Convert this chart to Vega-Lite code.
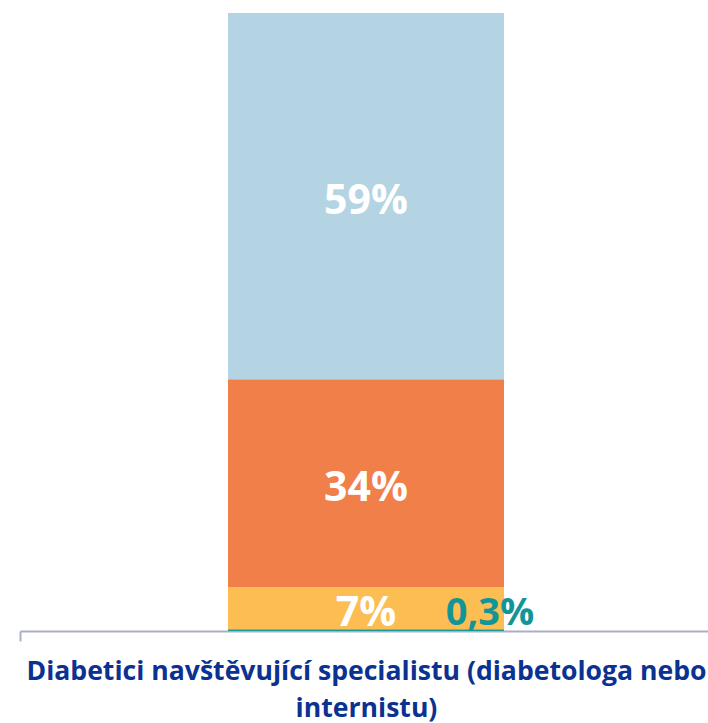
{
  "$schema": "https://vega.github.io/schema/vega-lite/v6.json",
  "autosize": "none",
  "width": 692,
  "height": 618,
  "padding": {"left": 20, "top": 13, "right": 0, "bottom": 92},
  "background": "white",
  "config": {"view": {"stroke": null}},
  "data": {
    "values": [
      {"group": "Diabetici", "segment": "0,3%", "value": 0.3, "label": "0,3%", "order": 1},
      {"group": "Diabetici", "segment": "7%", "value": 6.8, "label": "7%", "order": 2},
      {"group": "Diabetici", "segment": "34%", "value": 33.7, "label": "34%", "order": 3},
      {"group": "Diabetici", "segment": "59%", "value": 59.4, "label": "59%", "order": 4}
    ]
  },
  "transform": [
    {"stack": "value", "groupby": ["group"], "sort": [{"field": "order"}], "as": ["v0", "v1"]},
    {"calculate": "(datum.v0 + datum.v1) / 2", "as": "mid"}
  ],
  "layer": [
    {
      "mark": {"type": "bar"},
      "encoding": {
        "x": {
          "field": "group",
          "type": "nominal",
          "scale": {"paddingInner": 0, "paddingOuter": 0.7536},
          "axis": {
            "orient": "bottom",
            "labels": false,
            "ticks": false,
            "domainColor": "#a9b0c5",
            "domainWidth": 2,
            "title": ["Diabetici navštěvující specialistu (diabetologa nebo", "internistu)"],
            "titleFont": "Open Sans",
            "titleFontWeight": "bold",
            "titleFontSize": 26.6,
            "titleColor": "#0b3191",
            "titleLineHeight": 37,
            "titlePadding": 27
          }
        },
        "y": {"field": "v0", "type": "quantitative", "scale": {"domain": [0, 100.2], "nice": false}, "axis": null},
        "y2": {"field": "v1"},
        "color": {
          "field": "segment",
          "type": "nominal",
          "scale": {"domain": ["0,3%", "7%", "34%", "59%"], "range": ["#169a9c", "#fcbd52", "#f17f4a", "#b4d4e4"]},
          "legend": null
        }
      }
    },
    {
      "transform": [{"filter": "datum.order > 1"}],
      "mark": {"type": "text", "font": "Open Sans", "fontWeight": "bold", "fontSize": 41, "color": "white", "baseline": "middle", "align": "center", "dy": 6},
      "encoding": {
        "x": {"field": "group", "type": "nominal", "axis": null},
        "y": {"field": "mid", "type": "quantitative"},
        "text": {"field": "label"}
      }
    },
    {
      "transform": [{"filter": "datum.order == 1"}],
      "mark": {"type": "text", "font": "Open Sans", "fontWeight": "bold", "fontSize": 38, "color": "#139597", "baseline": "middle", "align": "center", "dx": 124, "dy": -16},
      "encoding": {
        "x": {"field": "group", "type": "nominal", "axis": null},
        "y": {"field": "mid", "type": "quantitative"},
        "text": {"field": "label"}
      }
    },
    {
      "mark": {"type": "rule", "opacity": 0},
      "encoding": {
        "x": {
          "datum": 0,
          "type": "quantitative",
          "scale": {"domain": [0, 1]},
          "axis": {
            "orient": "bottom",
            "values": [0],
            "labels": false,
            "domain": false,
            "grid": false,
            "ticks": true,
            "tickSize": 10,
            "tickWidth": 2,
            "tickColor": "#a9b0c5",
            "title": null
          }
        }
      }
    }
  ],
  "resolve": {"scale": {"x": "independent"}, "axis": {"x": "independent"}}
}
